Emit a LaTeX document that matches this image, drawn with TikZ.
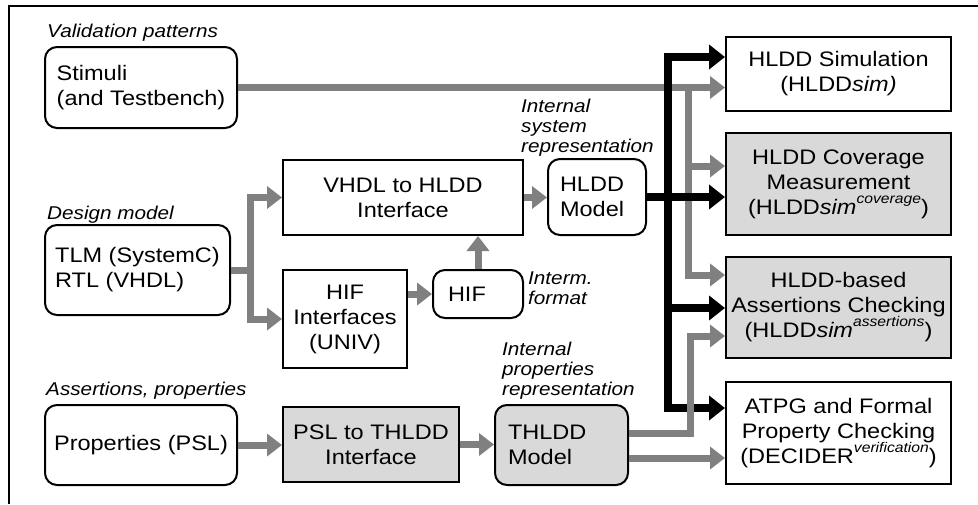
\documentclass[tikz,border=0pt]{standalone}
\usepackage{fontspec}
\setmainfont[FakeStretch=1.12]{Liberation Sans}
\usetikzlibrary{arrows.meta}
\definecolor{conn}{RGB}{128,128,128}
\definecolor{boxfill}{RGB}{217,217,217}
\newcommand{\supit}[1]{\smash{\raisebox{11pt}{\fontsize{14}{14}\selectfont\itshape #1}}}
\begin{document}
\begin{tikzpicture}[x=1pt,y=-1pt,
  box/.style={draw, line width=2pt, inner sep=0pt, font=\fontsize{21}{25}\selectfont, align=center},
  rbox/.style={box, rounded corners=12pt},
  shaded/.style={fill=boxfill},
  lbl/.style={inner sep=0pt, font=\fontsize{18.5}{20}\selectfont\itshape, align=left},
  garrow/.style={draw=conn, line width=7pt, line join=miter, -{Triangle[length=15pt,width=22pt]}},
  barrow/.style={draw=black, line width=8pt, line join=miter, -{Triangle[length=16pt,width=24pt]}},
]
\useasboundingbox (0,0) rectangle (978,504);
\draw[line width=1.5pt] (9,504) -- (9,6) -- (978,6);

% boxes
\node[rbox, align=left, minimum width=192pt, minimum height=81pt] (stim) at (141,87.5) {Stimuli\\(and Testbench)};
\node[rbox, align=left, minimum width=185pt, minimum height=90pt] (tlm) at (137.5,270) {TLM (SystemC)\\RTL (VHDL)};
\node[rbox, minimum width=192pt, minimum height=80pt] (props) at (141,445) {Properties (PSL)};
\node[box, minimum width=240pt, minimum height=75pt] (vhdl) at (403,197.5) {VHDL to HLDD\\Interface};
\node[box, minimum width=124pt, minimum height=98pt] (hifif) at (345,319) {HIF\\Interfaces\\(UNIV)};
\node[rbox, text width=60pt, inner xsep=15pt, align=left, minimum height=48pt] (hif) at (478,294) {HIF};
\node[rbox, text width=74pt, inner xsep=12pt, align=left, minimum height=76pt] (hldd) at (597,197) {HLDD\\Model};
\node[box, shaded, minimum width=176pt, minimum height=75pt] (psl) at (371,444.5) {PSL to THLDD\\Interface};
\node[rbox, shaded, text width=107pt, inner xsep=13pt, align=left, minimum height=80pt] (thldd) at (561.5,445) {THLDD\\Model};
\node[box, minimum width=225pt, minimum height=74pt] (sim) at (838.5,74) {HLDD Simulation\\(HLDD\textit{sim)}};
\node[box, shaded, minimum width=225pt, minimum height=102pt] (cov) at (838.5,184) {HLDD Coverage\\Measurement\\(HLDD\textit{sim}\supit{coverage})};
\node[box, shaded, minimum width=225pt, minimum height=101pt] (asrt) at (838.5,307.5) {HLDD-based\\Assertions Checking\\(HLDD\textit{sim}\supit{assertions})};
\node[box, minimum width=225pt, minimum height=102pt] (atpg) at (838.5,433) {ATPG and Formal\\Property Checking\\(DECIDER\supit{verification})};

% labels
\node[lbl, anchor=base west] (lval) at (47,37) {Validation patterns};
\node[lbl, anchor=base west] (ldm) at (47,219) {Design model};
\node[lbl, anchor=base west] (lap) at (46,395) {Assertions, properties};
\node[lbl, anchor=north west] (lisr) at (521,99) {Internal\\system\\representation};
\node[lbl, anchor=north west] (limf) at (528,272) {Interm.\\format};
\node[lbl, anchor=north west] (lipr) at (502,342) {Internal\\properties\\representation};

% gray connectors (stimuli and design flow)
\draw[garrow] (stim.east) -- (stim.east -| sim.west);
\coordinate (gsplit) at (688,87.5);
\coordinate (gcov) at (688,166);
\coordinate (gasrt) at (688,275);
\draw[garrow] (gsplit) -- (gasrt) -- (gasrt -| asrt.west);
\draw[garrow] (gcov) -- (gcov -| cov.west);

\coordinate (tsplit) at (250,270);
\draw[garrow] (tlm.east) -- (tsplit) |- (vhdl.west);
\draw[garrow] (tlm.east) -- (tsplit) |- (hifif.west);
\draw[garrow] (hifif.east |- hif.west) -- (hif.west);
\draw[garrow] (hif.north) -- (hif.north |- vhdl.south);
\draw[garrow] (vhdl.east) -- (vhdl.east -| hldd.west);
\draw[garrow] (props.east) -- (props.east -| psl.west);
\draw[garrow] (psl.east) -- (psl.east -| thldd.west);

% black connectors
\coordinate (bj) at (668,197);
\coordinate (bt) at (668,57);
\coordinate (bb) at (668,408);
\coordinate (ba) at (668,308);
\draw[barrow] (hldd.east) -- (hldd.east -| cov.west);
\draw[barrow] (bj) -- (bt) -- (bt -| sim.west);
\draw[barrow] (bj) -- (bb) -- (bb -| atpg.west);
\draw[barrow] (ba) -- (ba -| asrt.west);

% THLDD connectors
\coordinate (tq) at (690,433);
\coordinate (tr) at (690,336);
\coordinate (ts) at (690,458);
\draw[garrow] (thldd.east |- tq) -- (tq) -- (tr) -- (tr -| asrt.west);
\draw[garrow] (thldd.east |- ts) -- (ts -| atpg.west);
\end{tikzpicture}
\end{document}
